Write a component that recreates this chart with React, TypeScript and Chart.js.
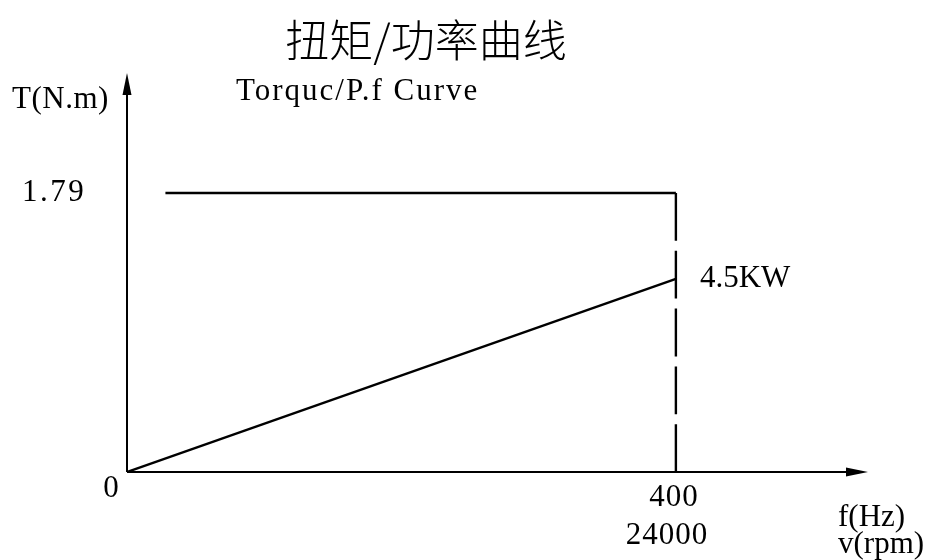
import React, { useEffect, useRef } from "react";
import { Chart, registerables } from "chart.js";

Chart.register(...registerables);

// ---- data ----
const torqueX = [28, 400];
const torqueY = [1.79, 1.79];
const powerX = [0, 400];
const powerKW = [0, 4.5];
const limitX = [400, 400];
const limitY = [1.79, 0];
const ratedTorque = 1.79;
const ratedFreq = 400;
const ratedSpeed = 24000;
const ratedPower = 4.5;

const title = "扭矩/功率曲线";
const subtitle = "Torquc/P.f Curve";
const yAxisTitle = "T(N.m)";
const xAxisTitles = ["f(Hz)", "v(rpm)"];
const powerLabel = `${ratedPower}KW`;

const LATIN = '"Liberation Serif", "DejaVu Serif", serif';
const CJK = '"Noto Sans CJK SC", sans-serif';

const annotate = {
  id: "annotate",
  afterDraw(chart: any) {
    const ctx = chart.ctx as CanvasRenderingContext2D;
    const xs = chart.scales.x;
    const ys = chart.scales.y;
    const ca = chart.chartArea;
    const x0 = xs.getPixelForValue(0);
    const y0 = ys.getPixelForValue(0);
    ctx.save();
    ctx.strokeStyle = "#000";
    ctx.fillStyle = "#000";
    ctx.lineWidth = 2;
    // y axis with arrow
    ctx.beginPath();
    ctx.moveTo(x0, y0);
    ctx.lineTo(x0, ca.top + 18);
    ctx.stroke();
    ctx.beginPath();
    ctx.moveTo(x0, ca.top);
    ctx.lineTo(x0 - 4.5, ca.top + 22);
    ctx.lineTo(x0 + 4.5, ca.top + 22);
    ctx.closePath();
    ctx.fill();
    // x axis with arrow
    ctx.beginPath();
    ctx.moveTo(x0, y0);
    ctx.lineTo(ca.right - 18, y0);
    ctx.stroke();
    ctx.beginPath();
    ctx.moveTo(ca.right, y0);
    ctx.lineTo(ca.right - 22, y0 - 4.5);
    ctx.lineTo(ca.right - 22, y0 + 4.5);
    ctx.closePath();
    ctx.fill();

    const text = (s: string, x: number, y: number, font: string, align: CanvasTextAlign = "center", spacing = "0px") => {
      ctx.font = font;
      (ctx as any).letterSpacing = spacing;
      ctx.textAlign = align;
      ctx.textBaseline = "middle";
      ctx.fillText(s, x, y);
    };
    const f30 = `31px ${LATIN}`;
    // title & subtitle
    text(title, 426, 40, `300 44px ${CJK}`);
    text(subtitle, 236, 92, f30, "left", "2px");
    // y axis
    text(yAxisTitle, 12, 100, f30, "left", "0.5px");
    text(String(ratedTorque), 22, ys.getPixelForValue(ratedTorque), f30, "left", "2.5px");
    text("0", x0 - 16, y0 + 17, f30);
    // x axis
    const xr = xs.getPixelForValue(ratedFreq);
    text(String(ratedFreq), xr - 2, y0 + 26, f30, "center", "1px");
    text(String(ratedSpeed), xr - 9, y0 + 64, f30, "center", "1px");
    text(xAxisTitles[0], 838, y0 + 46, f30, "left");
    text(xAxisTitles[1], 838, y0 + 73, f30, "left");
    // power label
    text(powerLabel, xr + 24, chart.scales.y1.getPixelForValue(ratedPower), f30, "left");
    ctx.restore();
  },
};

export default function App() {
  const ref = useRef<HTMLCanvasElement>(null);
  useEffect(() => {
    const canvas = ref.current!;
    const chart = new Chart(canvas, {
      type: "line",
      data: {
        datasets: [
          {
            label: "Torque",
            data: torqueX.map((x, i) => ({ x, y: torqueY[i] })),
            borderColor: "#000",
            borderWidth: 2.4,
            pointRadius: 0,
            yAxisID: "y",
          },
          {
            label: "Limit",
            data: limitX.map((x, i) => ({ x, y: limitY[i] })),
            borderColor: "#000",
            borderWidth: 2.4,
            borderDash: [47.8, 10],
            pointRadius: 0,
            yAxisID: "y",
          },
          {
            label: "Power",
            data: powerX.map((x, i) => ({ x, y: powerKW[i] })),
            borderColor: "#000",
            borderWidth: 2.4,
            pointRadius: 0,
            yAxisID: "y1",
          },
        ],
      },
      options: {
        animation: false,
        responsive: false,
        layout: { padding: { left: 127, right: 70, top: 73, bottom: 88 } },
        plugins: { legend: { display: false }, tooltip: { enabled: false }, title: { display: false } },
        scales: {
          x: { type: "linear", min: 0, max: 540, display: false },
          y: { type: "linear", min: 0, max: 2.56, display: false },
          y1: { type: "linear", min: 0, max: 9.3, display: false },
        },
      },
      plugins: [annotate],
    });
    return () => chart.destroy();
  }, []);
  return (
    <div style={{ position: "fixed", left: 0, top: 0, width: 938, height: 560, background: "#fff" }}>
      <canvas ref={ref} width={938} height={560} style={{ width: 938, height: 560, display: "block" }} />
    </div>
  );
}
